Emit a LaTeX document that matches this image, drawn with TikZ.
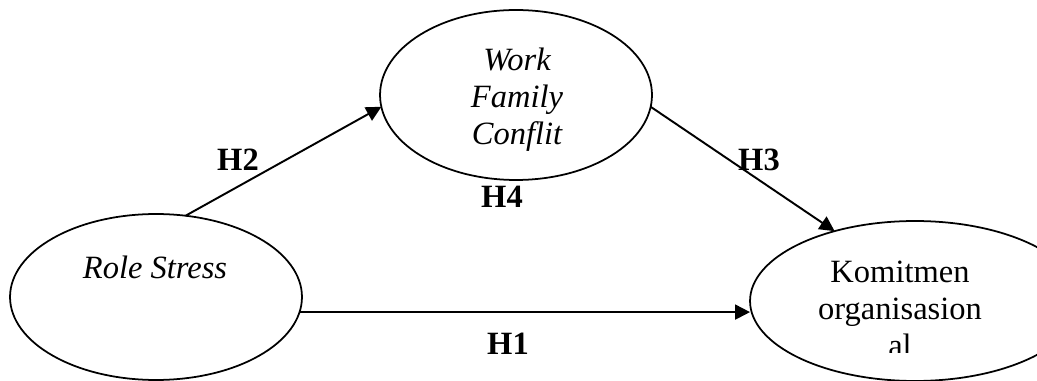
\documentclass[tikz,border=0pt]{standalone}
\usepackage{fontspec}
\setmainfont{Liberation Serif}
\usetikzlibrary{arrows.meta,shapes.geometric}
\tikzset{>={Triangle[length=0.3cm,width=0.3cm]}}
\tikzset{
  var/.style={ellipse,draw,line width=1pt,inner sep=0pt,outer sep=0pt},
  vartext/.style={align=center,font=\fontsize{18.5}{21}\selectfont},
  hyp/.style={font=\fontsize{18.5}{22}\selectfont\bfseries},
  path/.style={->,line width=1.1pt}
}

\begin{document}
\begin{tikzpicture}[x=0.02cm,y=-0.02cm]
\clip (0,0) rectangle (1037,381);
\node (work) [var,minimum width=5.44cm,minimum height=3.4cm] at (516,95) {};
\node (role) [var,minimum width=5.84cm,minimum height=3.32cm] at (156,297) {};
\node (kom) [var,minimum width=6.6cm,minimum height=3.2cm] at (915,301) {};
\node (worktext) [vartext] at (517,100) {\itshape Work\\\itshape Family\\\itshape Conflit};
\node (roletext) [vartext] at (155,267) {\itshape Role Stress};
\begin{scope}
\clip (790,240) rectangle (1010,352);
\node (komtext) [vartext] at (900,309) {Komitmen\\organisasion\\al};
\end{scope}
\draw[path] (role.70) -- (work.185);
\draw[path] (work.355) -- (kom.139);
\draw[path] (role.354) -- (role.354 -| kom.west);
\node (h2) [hyp] at (238,160) {H2};
\node (h4) [hyp] at (502,197) {H4};
\node (h3) [hyp] at (759,160) {H3};
\node (h1) [hyp] at (508,344) {H1};
\end{tikzpicture}
\end{document}
